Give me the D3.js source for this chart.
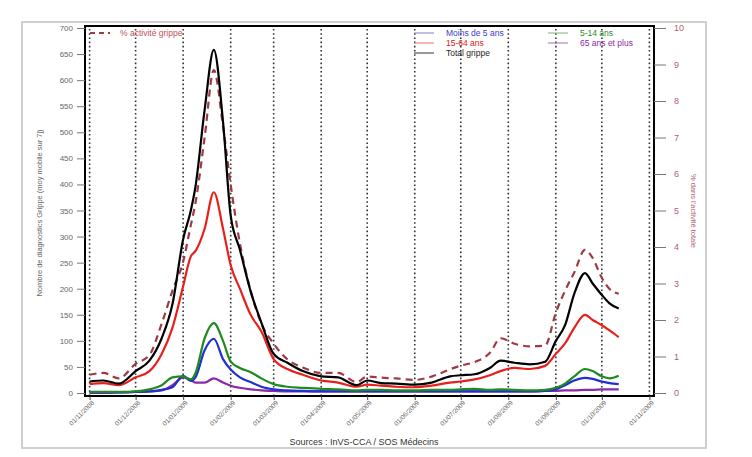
<!DOCTYPE html>
<html>
<head>
<meta charset="utf-8">
<script src="https://cdn.jsdelivr.net/npm/d3@7"></script>
<style>
  body { margin: 0; background: #fff; }
  svg { font-family: "Liberation Sans", Arial, sans-serif; }
</style>
</head>
<body>
<div id="chart-area"></div>
<script>
// Data
// ****
const dates = ["2008-11-01","2008-11-10","2008-11-20","2008-12-01","2008-12-10","2008-12-18","2008-12-25",
  "2009-01-01","2009-01-06","2009-01-09","2009-01-15","2009-01-21","2009-01-27","2009-02-01","2009-02-07",
  "2009-02-14","2009-02-21","2009-03-01","2009-03-10","2009-03-20","2009-04-01","2009-04-12","2009-04-24",
  "2009-05-01","2009-05-10","2009-05-20","2009-06-01","2009-06-12","2009-06-24","2009-07-01","2009-07-10",
  "2009-07-20","2009-07-27","2009-08-05","2009-08-15","2009-08-25","2009-09-01","2009-09-07","2009-09-13",
  "2009-09-20","2009-09-25","2009-10-01","2009-10-06","2009-10-12"]

const total = [22,24,18,42,62,105,170,295,350,395,543,658,520,340,275,195,135,75,58,42,32,30,15,
  24,19,18,16,20,32,34,36,48,62,58,55,60,100,130,190,230,210,188,172,162]
const age15_64 = [17,19,15,30,42,75,125,205,262,272,315,385,315,245,200,150,118,65,46,35,24,20,12,
  16,14,12,11,14,20,22,26,34,42,48,46,52,75,95,125,150,140,130,120,107]
const age5_14 = [2,2,2,3,7,15,30,32,26,38,105,134,100,60,48,40,28,17,12,10,8,7,5,
  6,6,5,5,6,6,7,8,6,7,6,5,6,10,18,32,46,42,32,28,33]
const ageUnder5 = [1,1,1,2,3,6,11,33,23,30,82,104,65,45,30,21,12,7,5,4,3,3,3,
  3,3,3,3,3,3,3,3,3,3,3,3,4,7,15,24,29,27,22,19,17]
const age65plus = [0,0,1,2,3,5,15,30,25,20,20,28,20,14,10,7,5,4,3,3,3,3,3,
  3,3,3,3,3,3,3,3,3,3,3,3,4,4,5,5,6,6,7,7,7]
const pctActivite = [0.5,0.55,0.4,0.8,1.04,1.9,2.8,3.6,4.6,5.2,7.0,8.85,7.3,5.7,4.1,2.8,1.9,1.35,0.92,0.7,0.55,0.55,0.3,
  0.45,0.42,0.4,0.36,0.45,0.65,0.75,0.85,1.1,1.5,1.35,1.28,1.3,2.2,2.8,3.3,3.92,3.7,3.15,2.85,2.72]

const monthTicks = ["01/11/2008","01/12/2008","01/01/2009","01/02/2009","01/03/2009","01/04/2009","01/05/2009",
  "01/06/2009","01/07/2009","01/08/2009","01/09/2009","01/10/2009","01/11/2009"]

// Config
// ******
const W = 752, H = 457
const plot = {left: 85, right: 654, top: 26, bottom: 396}
const parseIso = d3.timeParse("%Y-%m-%d")
const parseTick = d3.timeParse("%d/%m/%Y")

const svg = d3.select("#chart-area").append("svg")
  .attr("width", W).attr("height", H)

// outer frame
svg.append("rect")
  .attr("x", 22).attr("y", 22).attr("width", 684).attr("height", 426)
  .attr("fill", "#fff").attr("stroke", "#cfcfcf").attr("stroke-width", 2)

// Scales
// ******
const x = d3.scaleTime()
  .domain([new Date(2008, 9, 29), new Date(2009, 10, 4)])
  .range([plot.left, plot.right])
const y = d3.scaleLinear().domain([0, 700]).range([393, 28])
const y2 = d3.scaleLinear().domain([0, 10]).range([393, 28])

// Grid (dotted month lines)
// *************************
svg.append("g").selectAll("line").data(monthTicks).enter()
  .append("line")
    .attr("x1", d => x(parseTick(d))).attr("x2", d => x(parseTick(d)))
    .attr("y1", plot.top + 3).attr("y2", plot.bottom)
    .attr("stroke", "#333").attr("stroke-width", 1.6)
    .attr("stroke-dasharray", "1.6,2.6")

// Lines
// *****
const series = [
  {values: age65plus, color: "#8a2aa6", axis: y},
  {values: ageUnder5, color: "#1f2fd0", axis: y},
  {values: age5_14, color: "#1f8a1f", axis: y},
  {values: age15_64, color: "#e8201c", axis: y},
  {values: pctActivite, color: "#9e3a46", axis: y2, dash: "7,5"},
  {values: total, color: "#000", axis: y}
]

series.forEach(s => {
  const line = d3.line()
    .x((d, i) => x(parseIso(dates[i])))
    .y(d => s.axis(d))
    .curve(d3.curveMonotoneX)
  svg.append("path")
    .datum(s.values)
    .attr("d", line)
    .attr("fill", "none")
    .attr("stroke", s.color)
    .attr("stroke-width", 2.2)
    .attr("stroke-dasharray", s.dash || null)
})

// Plot border
svg.append("rect")
  .attr("x", plot.left).attr("y", plot.top)
  .attr("width", plot.right - plot.left).attr("height", plot.bottom - plot.top)
  .attr("fill", "none").attr("stroke", "#000").attr("stroke-width", 2)

// Axes
// ****
const axisColor = "#777"
const leftAxis = svg.append("g")
  .attr("transform", "translate(" + (plot.left - 8) + ",0)")
  .call(d3.axisLeft(y).tickValues(d3.range(0, 701, 50)).tickSize(8).tickSizeOuter(0))
leftAxis.select(".domain").remove()
leftAxis.selectAll("line").attr("stroke", axisColor).attr("transform", "translate(8,0)")
leftAxis.selectAll("text").attr("fill", "#666").attr("font-size", "8px").attr("x", -4)

const rightAxis = svg.append("g")
  .attr("transform", "translate(" + plot.right + ",0)")
  .call(d3.axisRight(y2).ticks(10).tickSize(12).tickSizeOuter(0))
rightAxis.select(".domain").remove()
rightAxis.selectAll("line").attr("stroke", axisColor)
rightAxis.selectAll("text").attr("fill", "#b06070").attr("font-size", "9px").attr("x", 20)

const bottomAxis = svg.append("g")
  .attr("transform", "translate(0," + plot.bottom + ")")
  .call(d3.axisBottom(x).tickValues(monthTicks.map(parseTick)).tickFormat(d3.timeFormat("%d/%m/%Y")).tickSize(4))
bottomAxis.select(".domain").remove()
bottomAxis.selectAll("line").attr("stroke", "#444")
bottomAxis.selectAll("text")
  .attr("fill", "#666").attr("font-size", "6.5px")
  .attr("text-anchor", "end")
  .attr("x", -2).attr("y", 6).attr("dy", "0.35em")
  .attr("transform", "rotate(-45)")

// Axis labels
// ***********
svg.append("text")
  .attr("transform", "translate(42,213) rotate(-90)")
  .attr("text-anchor", "middle").attr("font-size", "7.5px").attr("fill", "#666")
  .text("Nombre de diagnostics Grippe (moy mobile sur 7j)")

svg.append("text")
  .attr("transform", "translate(691,211) rotate(90)")
  .attr("text-anchor", "middle").attr("font-size", "7.5px").attr("fill", "#b06070")
  .text("% dans l'activité totale")

svg.append("text")
  .attr("x", 364).attr("y", 445)
  .attr("text-anchor", "middle").attr("font-size", "9px").attr("fill", "#333")
  .text("Sources : InVS-CCA / SOS Médecins")

// Legend
// ******
const legend = [
  {label: "% activité grippe", color: "#9e3a46", text: "#c0505a", dash: "5,4", x: 90, y: 33},
  {label: "Moins de 5 ans", color: "#8080c0", text: "#3a3ad0", x: 414, y: 33},
  {label: "15-64 ans", color: "#e87070", text: "#e02020", x: 414, y: 43},
  {label: "Total grippe", color: "#333", text: "#222", x: 414, y: 53},
  {label: "5-14 ans", color: "#80b080", text: "#2a8a2a", x: 548, y: 33},
  {label: "65 ans et plus", color: "#a070b0", text: "#8a2aa6", x: 548, y: 43}
]
const lg = svg.append("g").selectAll("g").data(legend).enter().append("g")
lg.append("line")
  .attr("x1", d => d.x).attr("x2", d => d.x + (d.dash ? 20 : 20))
  .attr("y1", d => d.y).attr("y2", d => d.y)
  .attr("stroke", d => d.color).attr("stroke-width", d => d.dash ? 2 : 1)
  .attr("stroke-dasharray", d => d.dash || null)
lg.append("text")
  .attr("x", d => d.x + (d.dash ? 30 : 32)).attr("y", d => d.y).attr("dy", "0.35em")
  .attr("font-size", "8.5px").attr("fill", d => d.text)
  .text(d => d.label)
</script>
</body>
</html>
